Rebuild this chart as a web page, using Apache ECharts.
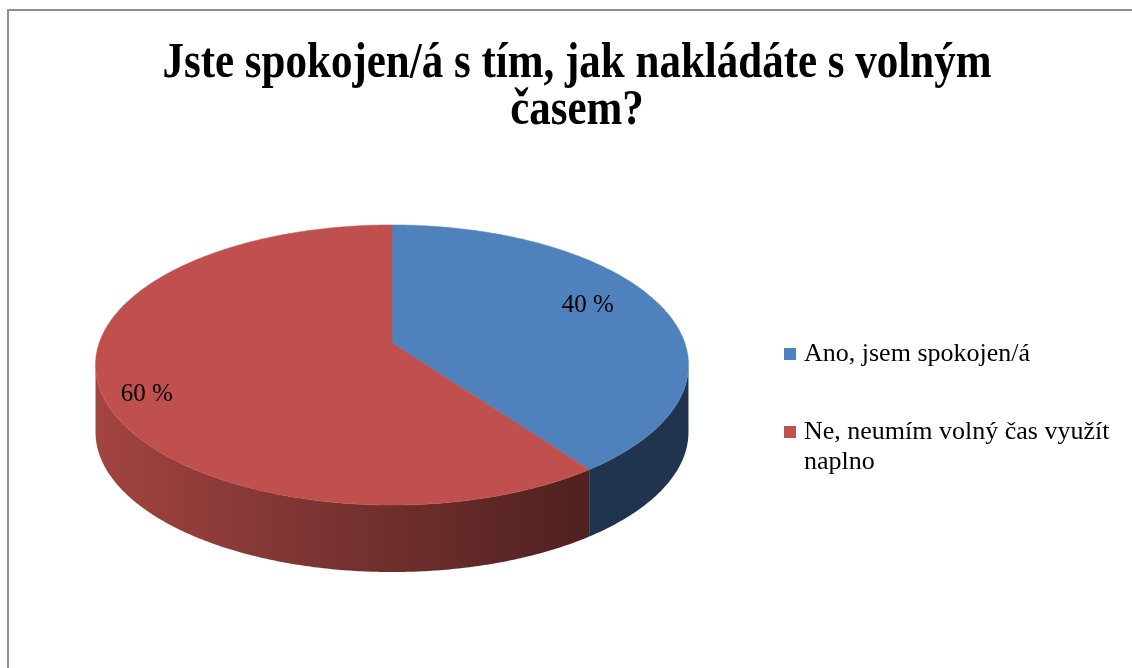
<!DOCTYPE html>
<html>
<head>
<meta charset="utf-8">
<script src="https://cdn.jsdelivr.net/npm/echarts@6/dist/echarts.min.js"></script>
<style>
html,body{margin:0;padding:0;background:#fff;}
#chart{width:1132px;height:668px;}
</style>
</head>
<body>
<div id="chart"></div>
<script>
// ---- data ----
const titleText = 'Jste spokojen/á s tím, jak nakládáte s volným\nčasem?';
const categories = ['Ano, jsem spokojen/á', 'Ne, neumím volný čas využít naplno'];
const values = [40, 60];

// ---- styles ----
const topColors = ['#4F81BD', '#C0504D'];
const LEGEND_FONT = '26px "Liberation Serif"';

// ---- layout of the tilted pie (perspective projection) ----
const CX = 392, CY = 343;      // projected centre of the top face
const PX = 292.8, QY = 136.6;  // horizontal / vertical radii
const K = -0.157;              // perspective factor
const DEPTH = 67;              // thickness of the slab
const LABEL_RX = 0.79, LABEL_RY = 1.05, LABEL_DX = -14, LABEL_DY = 5;

function proj(deg, r, dy) {
  const t = deg * Math.PI / 180;
  const u = r * Math.sin(t), v = -r * Math.cos(t);
  const d = 1 + K * v;
  return [CX + PX * u / d, CY + QY * v / d + (dy || 0)];
}
function shade(hex, f) {
  const n = parseInt(hex.slice(1), 16);
  const r = Math.round(((n >> 16) & 255) * f), g = Math.round(((n >> 8) & 255) * f), b = Math.round((n & 255) * f);
  return 'rgb(' + r + ',' + g + ',' + b + ')';
}
function wrapText(s, font, maxW) {
  const ctx = document.createElement('canvas').getContext('2d');
  ctx.font = font;
  const words = s.split(' ');
  const lines = [];
  let cur = '';
  words.forEach(w => {
    const t = cur ? cur + ' ' + w : w;
    if (cur && ctx.measureText(t).width > maxW) { lines.push(cur); cur = w; }
    else cur = t;
  });
  if (cur) lines.push(cur);
  return lines;
}
const total = values.reduce((a, b) => a + b, 0);
const starts = [];
values.reduce((acc, v, i) => { starts[i] = acc; return acc + v; }, 0);
const silR = Math.acos(K) * 180 / Math.PI;   // right silhouette angle
const silL = 360 - silR;                      // left silhouette angle

function makeRender(i) {
  return function (params, api) {
    const val = api.value(0);
    const a0 = starts[i] / total * 360;
    const a1 = (starts[i] + val) / total * 360;
    const children = [];
    // side wall (visible near part only)
    const lo = Math.max(a0, silR), hi = Math.min(a1, silL);
    if (hi > lo) {
      const pts = [];
      const n = Math.max(2, Math.ceil((hi - lo) * 2));
      for (let k = 0; k <= n; k++) pts.push(proj(lo + (hi - lo) * k / n, 1, 0));
      for (let k = n; k >= 0; k--) pts.push(proj(lo + (hi - lo) * k / n, 1, DEPTH));
      const left = proj(silL, 1, 0)[0], right = proj(144, 1, 0)[0];
      children.push({
        type: 'polygon',
        shape: { points: pts },
        style: {
          fill: new echarts.graphic.LinearGradient(left, 0, right, 0, [
            { offset: 0, color: shade(topColors[i], 0.85) },
            { offset: 0.5, color: shade(topColors[i], 0.62) },
            { offset: 1, color: shade(topColors[i], 0.41) }
          ], true),
          stroke: null
        }
      });
    }
    // top face
    const tp = [[CX, CY]];
    const m = Math.max(2, Math.ceil((a1 - a0) * 2));
    for (let k = 0; k <= m; k++) tp.push(proj(a0 + (a1 - a0) * k / m, 1, 0));
    children.push({
      type: 'polygon',
      shape: { points: tp },
      style: { fill: topColors[i], stroke: topColors[i], lineWidth: 0.5 }
    });
    // data label
    const p1 = proj((a0 + a1) / 2, 1, 0);
    children.push({
      type: 'text',
      x: CX + (p1[0] - CX) * LABEL_RX + LABEL_DX,
      y: CY + (p1[1] - CY) * LABEL_RY + LABEL_DY,
      style: {
        text: Math.round(val / total * 100) + ' %',
        font: '25px "Liberation Serif"',
        fill: '#000',
        align: 'center',
        verticalAlign: 'middle'
      }
    });
    return { type: 'group', children: children };
  };
}

const chart = echarts.init(document.getElementById('chart'), null, { renderer: 'canvas' });
chart.setOption({
  animation: false,
  backgroundColor: '#fff',
  legend: {
    orient: 'vertical',
    left: 784,
    top: 339,
    padding: 0,
    itemWidth: 12,
    itemHeight: 12,
    itemGap: 18,
    icon: 'rect',
    selectedMode: false,
    data: categories,
    formatter: function (name) {
      const lines = wrapText(name, LEGEND_FONT, 322);
      // keep the marker beside the first line of a wrapped entry
      return '\n'.repeat(lines.length - 1) + lines.join('\n');
    },
    textStyle: {
      fontFamily: 'Liberation Serif',
      fontSize: 26,
      color: '#000',
      lineHeight: 30,
      padding: [0, 0, 0, 3]
    }
  },
  graphic: [
    {
      type: 'rect', silent: true, z: 100,
      shape: { x: 8, y: 10, width: 1200, height: 700 },
      style: { fill: 'none', stroke: '#8f8f8f', lineWidth: 2 }
    },
    {
      type: 'text', silent: true,
      x: 577, y: 40, scaleY: 1.2,
      style: {
        text: titleText,
        font: 'bold 43px "Liberation Serif"',
        fill: '#000',
        align: 'center',
        verticalAlign: 'top',
        lineHeight: 39
      }
    }
  ],
  series: categories.map((c, i) => ({
    type: 'custom',
    name: c,
    coordinateSystem: 'none',
    silent: true,
    itemStyle: { color: topColors[i] },
    data: [values[i]],
    renderItem: makeRender(i)
  }))
});
</script>
</body>
</html>
